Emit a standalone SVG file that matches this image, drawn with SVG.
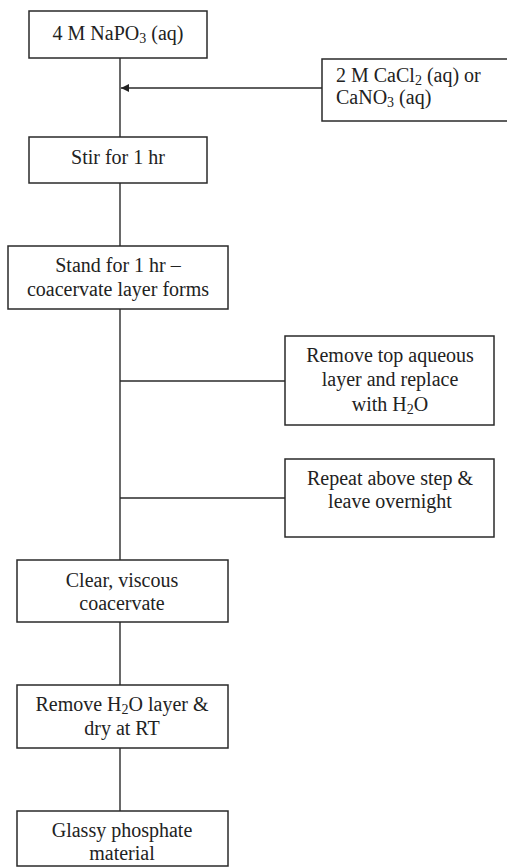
<svg xmlns="http://www.w3.org/2000/svg" width="507" height="868" viewBox="0 0 507 868">
<style>
.box{fill:#fff;stroke:#2a2a2a;stroke-width:1.5}
.ln{fill:none;stroke:#2a2a2a;stroke-width:1.4}
text{font-family:"Liberation Serif","Times New Roman",serif;font-size:20px;fill:#222}
.c{text-anchor:middle}
.s{font-size:14px}
</style>
<defs>
<marker id="ah" markerWidth="8" markerHeight="8" refX="8" refY="4" orient="auto" markerUnits="userSpaceOnUse">
<path d="M0,0 L8,4 L0,8 Z" fill="#222"/>
</marker>
</defs>
<g id="connectors">
<line class="ln" x1="120" y1="58" x2="120" y2="137"/>
<line class="ln" x1="322" y1="88" x2="121" y2="88" marker-end="url(#ah)"/>
<line class="ln" x1="120" y1="183" x2="120" y2="246"/>
<line class="ln" x1="120" y1="309" x2="120" y2="560"/>
<line class="ln" x1="120" y1="381" x2="285" y2="381"/>
<line class="ln" x1="120" y1="498" x2="285" y2="498"/>
<line class="ln" x1="120" y1="622" x2="120" y2="685"/>
<line class="ln" x1="120" y1="748" x2="120" y2="811"/>
</g>
<g id="n1">
<rect class="box" x="29" y="11" width="178" height="47"/>
<text class="c" x="118" y="40">4 M NaPO<tspan class="s" dy="3">3</tspan><tspan dy="-3"> (aq)</tspan></text>
</g>
<g id="n2">
<rect class="box" x="322" y="59" width="190" height="62"/>
<text x="336" y="82">2 M CaCl<tspan class="s" dy="3">2</tspan><tspan dy="-3"> (aq) or</tspan></text>
<text x="336" y="104">CaNO<tspan class="s" dy="3">3</tspan><tspan dy="-3"> (aq)</tspan></text>
</g>
<g id="n3">
<rect class="box" x="29" y="137" width="178" height="46"/>
<text class="c" x="118" y="164">Stir for 1 hr</text>
</g>
<g id="n4">
<rect class="box" x="8" y="246" width="220" height="63"/>
<text class="c" x="118" y="272">Stand for 1 hr –</text>
<text class="c" x="118" y="296">coacervate layer forms</text>
</g>
<g id="n5">
<rect class="box" x="285" y="336" width="209" height="89"/>
<text class="c" x="390" y="362">Remove top aqueous</text>
<text class="c" x="390" y="386">layer and replace</text>
<text class="c" x="390" y="411">with H<tspan class="s" dy="3">2</tspan><tspan dy="-3">O</tspan></text>
</g>
<g id="n6">
<rect class="box" x="285" y="459" width="209" height="78"/>
<text class="c" x="390" y="485">Repeat above step &amp;</text>
<text class="c" x="390" y="508">leave overnight</text>
</g>
<g id="n7">
<rect class="box" x="17" y="560" width="211" height="62"/>
<text class="c" x="122" y="587">Clear, viscous</text>
<text class="c" x="122" y="610">coacervate</text>
</g>
<g id="n8">
<rect class="box" x="17" y="685" width="211" height="63"/>
<text class="c" x="122" y="711">Remove H<tspan class="s" dy="3">2</tspan><tspan dy="-3">O layer &amp;</tspan></text>
<text class="c" x="122" y="735">dry at RT</text>
</g>
<g id="n9">
<rect class="box" x="17" y="811" width="211" height="55"/>
<text class="c" x="122" y="837">Glassy phosphate</text>
<text class="c" x="122" y="860">material</text>
</g>
</svg>
